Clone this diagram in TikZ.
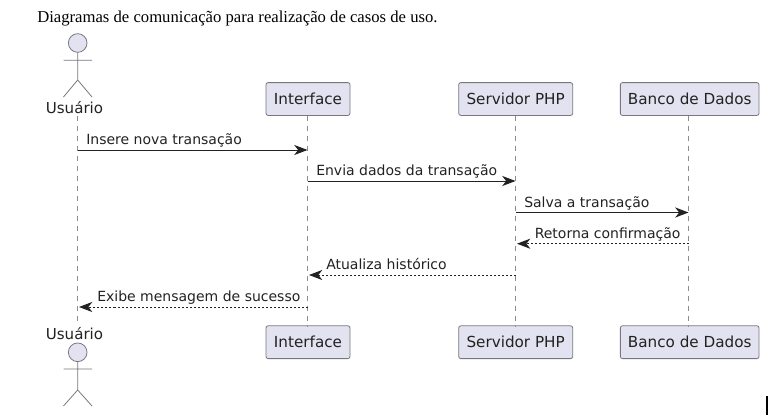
\documentclass[tikz,border=0pt]{standalone}
\usepackage{fontspec}
\setmainfont{DejaVu Sans}
\newfontfamily\titlefont{Liberation Serif}
\usetikzlibrary{arrows.meta}
\definecolor{pfill}{HTML}{E2E2F0}
\definecolor{pline}{HTML}{77777F}
\definecolor{lifecol}{HTML}{8C8C8C}
\definecolor{ink}{HTML}{222222}
\tikzset{
  x=0.75pt,y=-0.75pt,
  pbox/.style={draw=pline,fill=pfill,rounded corners=1.6pt,line width=0.6pt,minimum height=24.6pt,inner sep=0pt,text=ink,font=\fontsize{11.4}{13}\selectfont},
  actorname/.style={inner sep=0pt,text=ink,font=\fontsize{11.3}{13}\selectfont},
  msg/.style={anchor=base west,inner sep=0pt,text=ink,font=\fontsize{10.5}{12}\selectfont},
  lifeline/.style={draw=lifecol,line width=0.55pt,dash pattern=on 3.75pt off 3.75pt},
  stick/.style={draw=pline,line width=0.6pt},
  head/.style={draw=pline,fill=pfill,line width=0.6pt},
  call/.style={draw=ink,line width=0.75pt,-{Stealth[length=10pt,width=7.6pt,inset=3pt]}},
  reply/.style={call,dash pattern=on 1.5pt off 1.5pt},
}
\begin{document}
\begin{tikzpicture}
\useasboundingbox (0,0) rectangle (776,418);
\node[anchor=base west,inner sep=0pt,font=\titlefont\fontsize{12.5}{14}\selectfont] (title) at (37,22) {Diagramas de comunicação para realização de casos de uso.};

% top participants
\node[actorname] (uT) at (74.5,107.5) {Usuário};
\node[pbox,minimum width=63pt] (iT) at (308,99) {Interface};
\node[pbox,minimum width=85.5pt] (sT) at (515.7,99) {Servidor PHP};
\node[pbox,minimum width=104pt] (bT) at (689.7,99) {Banco de Dados};
% bottom participants
\node[actorname] (uB) at (74.5,334) {Usuário};
\node[pbox,minimum width=63pt] (iB) at (308,342.2) {Interface};
\node[pbox,minimum width=85.5pt] (sB) at (515.7,342.2) {Servidor PHP};
\node[pbox,minimum width=104pt] (bB) at (689.7,342.2) {Banco de Dados};

% lifelines
\coordinate (uLt) at (77.7,116); \coordinate (uLb) at (77.7,326);
\coordinate (iLt) at (307.5,115.5); \coordinate (iLb) at (307.5,325.7);
\coordinate (sLt) at (515.5,115.5); \coordinate (sLb) at (515.5,325.7);
\coordinate (bLt) at (688.5,115.5); \coordinate (bLb) at (688.5,325.7);
\draw[lifeline] (uLt) -- (uLb);
\draw[lifeline] (iLt) -- (iLb);
\draw[lifeline] (sLt) -- (sLb);
\draw[lifeline] (bLt) -- (bLb);

% actors
\node[head,circle,minimum size=14pt,inner sep=0pt] (hT) at (77.7,43) {};
\coordinate (hipT) at (77.7,80); \coordinate (laT) at (63.5,60.3); \coordinate (raT) at (92,60.3);
\coordinate (llT) at (63.5,97); \coordinate (rlT) at (92,97);
\draw[stick] (hT.south) -- (hipT) (laT) -- (raT) (llT) -- (hipT) -- (rlT);
\node[head,circle,minimum size=14pt,inner sep=0pt] (hB) at (77.7,352.3) {};
\coordinate (hipB) at (77.7,390); \coordinate (laB) at (63.5,369); \coordinate (raB) at (92,369);
\coordinate (llB) at (63.5,406); \coordinate (rlB) at (92,406);
\draw[stick] (hB.south) -- (hipB) (laB) -- (raB) (llB) -- (hipB) -- (rlB);

% messages
\coordinate (m1a) at (77.7,150); \coordinate (m1b) at (307.5,150);
\coordinate (m2a) at (307.5,181); \coordinate (m2b) at (515.5,181);
\coordinate (m3a) at (515.5,212.5); \coordinate (m3b) at (688.5,212.5);
\coordinate (m4a) at (688.5,243.7); \coordinate (m4b) at (517,243.7);
\coordinate (m5a) at (515.5,275); \coordinate (m5b) at (309,275);
\coordinate (m6a) at (307.5,307); \coordinate (m6b) at (79,307);
\draw[call] (m1a) -- (m1b);
\draw[call] (m2a) -- (m2b);
\draw[call] (m3a) -- (m3b);
\draw[reply] (m4a) -- (m4b);
\draw[reply] (m5a) -- (m5b);
\draw[reply] (m6a) -- (m6b);
\node[msg] (l1) at (86,144.5) {Insere nova transação};
\node[msg] (l2) at (316,175.5) {Envia dados da transação};
\node[msg] (l3) at (524,207) {Salva a transação};
\node[msg] (l4) at (534.5,238.3) {Retorna confirmação};
\node[msg] (l5) at (326,269.5) {Atualiza histórico};
\node[msg] (l6) at (97,301.5) {Exibe mensagem de sucesso};

% cursor bar
\fill[black] (766.3,396) rectangle (768,415);
\end{tikzpicture}
\end{document}
